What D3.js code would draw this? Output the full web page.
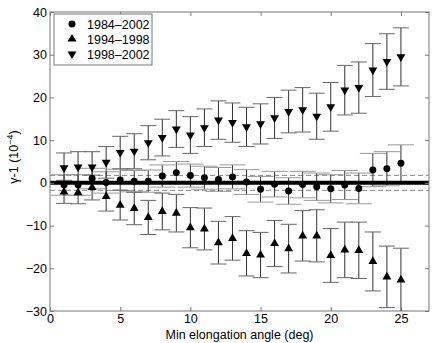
<!DOCTYPE html>
<html>
<head>
<meta charset="utf-8">
<script src="https://cdn.jsdelivr.net/npm/d3@7"></script>
<style>
  body { margin: 0; background: #fff; }
  text { font-family: "Liberation Sans", Arial, sans-serif; }
</style>
</head>
<body>
<svg width="436" height="343"></svg>
<script>
// elongation angles
var angles = d3.range(1, 26);

// 1984-2002 (circles)
var allVals = [-0.5, -0.5, 1.0, 0.1, 0.7, 0.4, 0.4, 1.6, 2.4, 1.7, 1.2, 0.8, 1.4, 0.2, -1.5, -0.3, -1.9, -0.4, -0.9, -1.4, -0.5, -1.3, 3.0, 3.3, 4.6];
var allErr  = [2.4, 2.4, 2.4, 2.5, 2.5, 2.5, 2.6, 2.6, 2.6, 2.7, 2.7, 2.8, 2.8, 2.9, 3.0, 3.0, 3.1, 3.1, 3.2, 3.3, 3.4, 3.6, 3.9, 4.0, 4.3];

// 1994-1998 (up triangles)
var earlyVals = [-2.1, -2.3, -1.1, -3.2, -5.2, -6.0, -8.1, -6.7, -7.1, -10.5, -10.8, -14.0, -13.0, -16.5, -16.9, -14.2, -15.4, -12.4, -12.4, -17.0, -15.7, -15.8, -18.4, -22.0, -22.7];
var earlyErr  = [2.7, 2.6, 2.9, 3.4, 3.5, 3.8, 4.0, 4.3, 4.4, 4.7, 4.9, 5.0, 5.1, 5.3, 5.3, 5.4, 5.7, 5.9, 6.1, 6.3, 6.5, 6.6, 6.9, 7.2, 7.4];

// 1998-2002 (down triangles)
var lateVals = [3.5, 3.7, 3.7, 4.8, 7.1, 7.4, 9.4, 10.6, 12.6, 11.2, 12.9, 14.7, 14.1, 13.1, 13.8, 15.2, 16.7, 17.1, 15.6, 17.8, 21.7, 22.3, 26.4, 28.4, 29.5];
var lateErr  = [3.5, 3.6, 3.6, 3.7, 3.8, 4.1, 4.0, 4.3, 4.3, 4.3, 4.4, 4.5, 4.6, 4.6, 4.7, 4.8, 5.0, 5.2, 5.4, 5.7, 5.8, 6.0, 6.2, 6.5, 6.8];

var xTicks = [0, 5, 10, 15, 20, 25];
var yTicks = [-30, -20, -10, 0, 10, 20, 30, 40];
var dashedLevels = [1.75, -1.75];

var svg = d3.select("svg");
var margin = {top: 12, right: 7, bottom: 32, left: 50};
var width = 436 - margin.left - margin.right;
var height = 343 - margin.top - margin.bottom;

var x = d3.scaleLinear().domain([0, 27]).range([0, width]);
var y = d3.scaleLinear().domain([-30, 40]).range([height, 0]);

var g = svg.append("g")
  .attr("transform", "translate(" + margin.left + "," + margin.top + ")");

g.append("clipPath").attr("id", "clip")
  .append("rect").attr("width", width).attr("height", height);

var plot = g.append("g").attr("clip-path", "url(#clip)");

// dashed reference lines
plot.selectAll(".dash")
  .data(dashedLevels)
  .enter().append("line")
  .attr("x1", 0).attr("x2", width)
  .attr("y1", function(d) { return y(d); })
  .attr("y2", function(d) { return y(d); })
  .attr("stroke", "#888")
  .attr("stroke-dasharray", "5,3");

function makeSeries(vals, errs) {
  return vals.map(function(v, i) { return {x: angles[i], v: v, e: errs[i]}; });
}

var series = [
  {name: "1984\u20132002", data: makeSeries(allVals, allErr), sym: d3.symbolCircle, size: 38, rot: 0, cap: 13, capColor: "#999"},
  {name: "1994\u20131998", data: makeSeries(earlyVals, earlyErr), sym: d3.symbolTriangle, size: 34, rot: 0, cap: 8, capColor: "#666"},
  {name: "1998\u20132002", data: makeSeries(lateVals, lateErr), sym: d3.symbolTriangle, size: 34, rot: 180, cap: 8, capColor: "#666"}
];

// error bars
series.forEach(function(s) {
  var eb = plot.append("g");
  eb.selectAll(".v").data(s.data).enter().append("line")
    .attr("x1", function(d) { return x(d.x); })
    .attr("x2", function(d) { return x(d.x); })
    .attr("y1", function(d) { return y(d.v - d.e); })
    .attr("y2", function(d) { return y(d.v + d.e); })
    .attr("stroke", "#333");
  [1, -1].forEach(function(sign) {
    eb.selectAll(".c" + sign).data(s.data).enter().append("line")
      .attr("x1", function(d) { return x(d.x) - s.cap; })
      .attr("x2", function(d) { return x(d.x) + s.cap; })
      .attr("y1", function(d) { return y(d.v + sign * d.e); })
      .attr("y2", function(d) { return y(d.v + sign * d.e); })
      .attr("stroke", s.capColor);
  });
});

// thick zero line
plot.append("line")
  .attr("x1", 0).attr("x2", width)
  .attr("y1", y(0)).attr("y2", y(0))
  .attr("stroke", "#000").attr("stroke-width", 4);

// markers
series.forEach(function(s) {
  plot.append("g").selectAll("path").data(s.data).enter().append("path")
    .attr("d", d3.symbol().type(s.sym).size(s.size))
    .attr("transform", function(d) {
      return "translate(" + x(d.x) + "," + y(d.v) + ") rotate(" + s.rot + ")";
    })
    .attr("fill", "#000");
});

// axes box with inward ticks
var axisColor = "#777";
g.append("rect").attr("width", width).attr("height", height)
  .attr("fill", "none").attr("stroke", axisColor);

function styleAxis(sel) {
  sel.select(".domain").remove();
  sel.selectAll(".tick line").attr("stroke", axisColor);
  sel.selectAll(".tick text").attr("fill", "#000")
    .style("font-family", "'Liberation Sans', Arial, sans-serif").style("font-size", "12.5px");
}

g.append("g").attr("transform", "translate(0," + height + ")")
  .call(d3.axisBottom(x).tickValues(xTicks).tickSizeInner(-4).tickSizeOuter(0).tickPadding(3))
  .call(styleAxis);
g.append("g")
  .call(d3.axisTop(x).tickValues(xTicks).tickSizeInner(-4).tickSizeOuter(0).tickFormat(""))
  .call(styleAxis);
g.append("g")
  .call(d3.axisLeft(y).tickValues(yTicks).tickSizeInner(-4).tickSizeOuter(0).tickPadding(3)
    .tickFormat(function(d) { return d < 0 ? "\u2212" + Math.abs(d) : d; }))
  .call(styleAxis);
g.append("g").attr("transform", "translate(" + width + ",0)")
  .call(d3.axisRight(y).tickValues(yTicks).tickSizeInner(-4).tickSizeOuter(0).tickFormat(""))
  .call(styleAxis);

// axis labels
svg.append("text")
  .attr("x", margin.left + width / 2).attr("y", 339)
  .attr("text-anchor", "middle").style("font-size", "12.5px")
  .text("Min elongation angle (deg)");

var yl = svg.append("text")
  .attr("transform", "translate(18," + 157 + ") rotate(-90)")
  .attr("text-anchor", "middle").style("font-size", "12.5px");
yl.append("tspan").text("\u03b3-1 (10");
yl.append("tspan").attr("dy", -5).style("font-size", "9px").text("\u22124");
yl.append("tspan").attr("dy", 5).text(")");

// legend
var lg = g.append("g").attr("transform", "translate(4,2)");
lg.append("rect").attr("width", 98).attr("height", 51)
  .attr("fill", "#fff").attr("stroke", axisColor);
series.forEach(function(s, i) {
  var row = lg.append("g").attr("transform", "translate(0," + (10 + i * 15) + ")");
  row.append("path")
    .attr("d", d3.symbol().type(s.sym).size(s.size))
    .attr("transform", "translate(18,0) rotate(" + s.rot + ")")
    .attr("fill", "#000");
  row.append("text").attr("x", 33).attr("y", 4.5)
    .style("font-size", "12.5px").text(s.name);
});
</script>
</body>
</html>
